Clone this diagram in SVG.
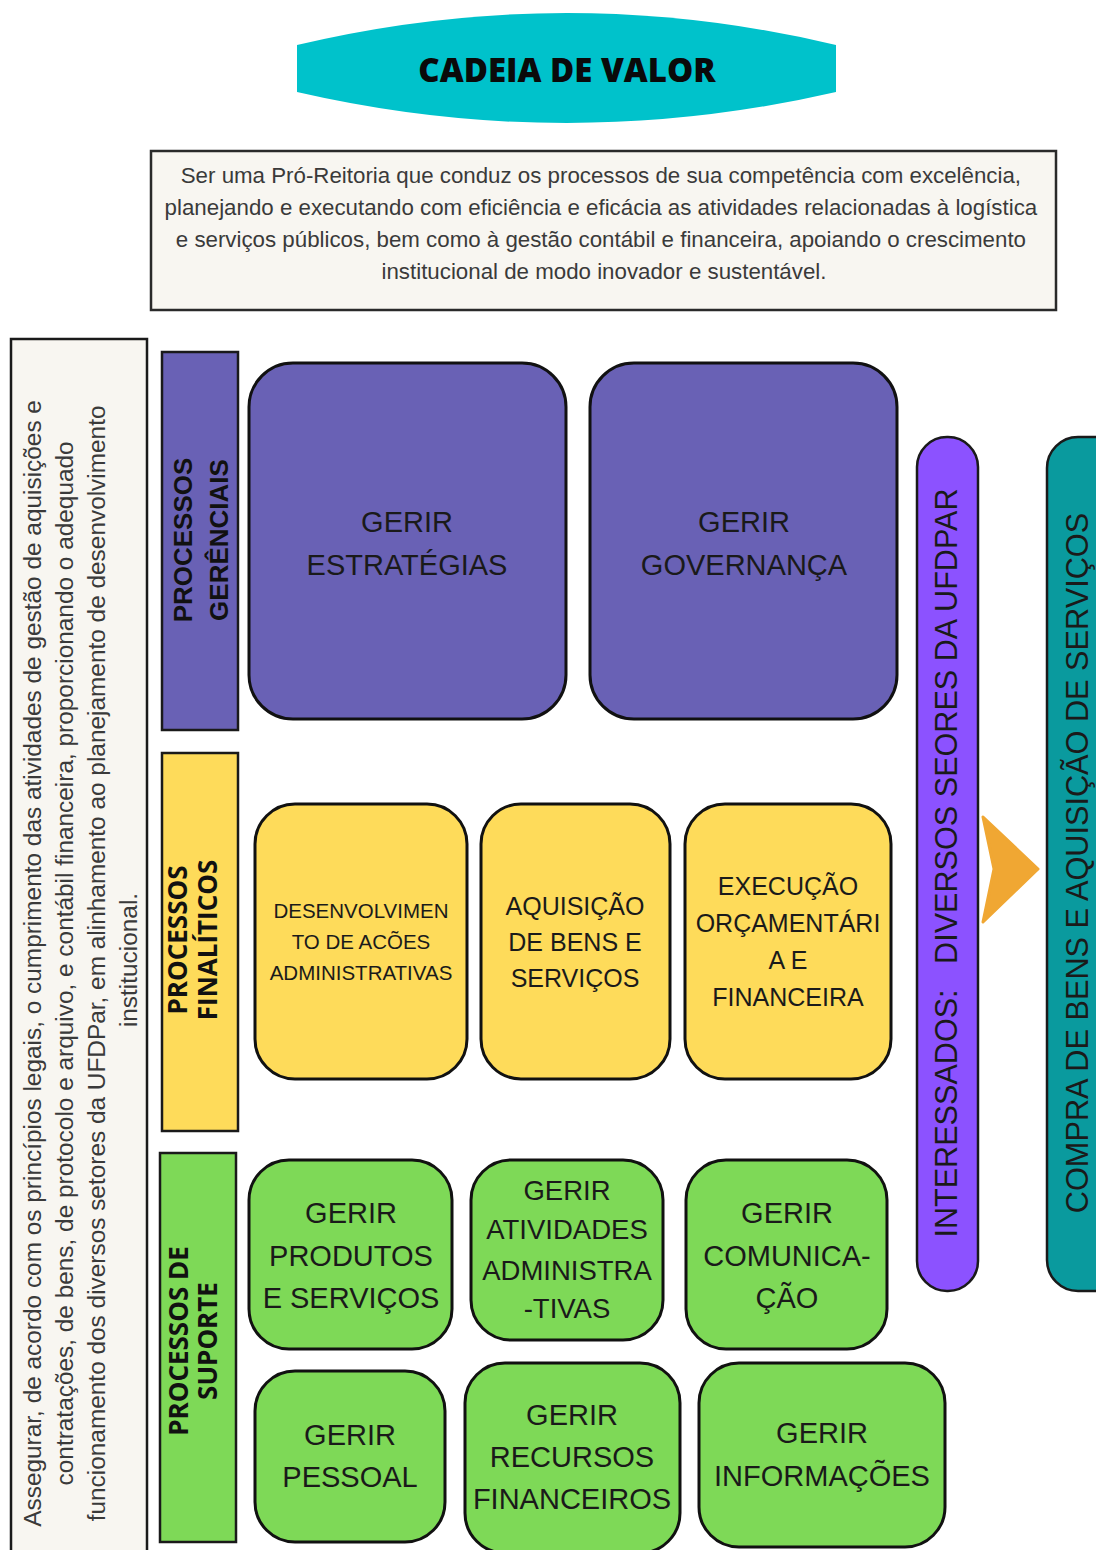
<svg xmlns="http://www.w3.org/2000/svg" width="1096" height="1550" viewBox="0 0 1096 1550">
<style>
.box{stroke:#111;stroke-width:3}
.pur{fill:#6961b5}
.yel{fill:#fedb5a}
.grn{fill:#7ed957}
.lbl{font-family:"Liberation Sans",Arial,sans-serif;fill:#1a1a1a;text-anchor:middle}
.bar{font-family:"Liberation Sans",Arial,sans-serif;font-weight:bold;fill:#111;text-anchor:middle;font-size:26px}
.bar2{font-family:"Open Sans","Liberation Sans",sans-serif;font-weight:bold;fill:#111;text-anchor:middle;font-size:26px}
.para{font-family:"Liberation Sans",Arial,sans-serif;fill:#3a3a3a;text-anchor:middle}
</style>
<rect width="1096" height="1550" fill="#ffffff"/>

<g id="title">
<path d="M297,45 Q567,-19 836,45 L836,92 Q567,154 297,92 Z" fill="#00c2cb"/>
<text x="567" y="82" font-family="'Open Sans','Liberation Sans',sans-serif" font-weight="800" font-size="33" fill="#0a0a0a" text-anchor="middle">CADEIA DE VALOR</text>
</g>

<g id="mission">
<rect x="151" y="151" width="905" height="159" fill="#f8f6f1" stroke="#2a2a2a" stroke-width="2.5"/>
<text class="para" font-size="22.3">
<tspan x="604" y="183">Ser uma Pró-Reitoria que conduz os processos de sua competência com excelência,</tspan>
<tspan x="604" y="215">planejando e executando com eficiência e eficácia as atividades relacionadas à logística</tspan>
<tspan x="604" y="247">e serviços públicos, bem como à gestão contábil e financeira, apoiando o crescimento</tspan>
<tspan x="604" y="279">institucional de modo inovador e sustentável.</tspan>
</text>
</g>

<g id="purpose">
<rect x="11" y="339" width="136" height="1230" fill="#f8f6f1" stroke="#1a1a1a" stroke-width="2.5"/>
<g transform="translate(0,960) rotate(-90)">
<text class="para" font-size="24.4">
<tspan x="0" y="41">Assegurar, de acordo com os princípios legais, o cumprimento das atividades de gestão de aquisições e</tspan>
<tspan x="0" y="73">contratações, de bens, de protocolo e arquivo, e contábil financeira, proporcionando o adequado</tspan>
<tspan x="0" y="105">funcionamento dos diversos setores da UFDPar, em alinhamento ao planejamento de desenvolvimento</tspan>
<tspan x="0" y="137">institucional.</tspan>
</text>
</g>
</g>

<g id="bar-gerenciais">
<rect x="162" y="352" width="76" height="378" class="pur" stroke="#1a1a1a" stroke-width="2.5"/>
<g transform="translate(0,540) rotate(-90)">
<text class="bar"><tspan x="0" y="192">PROCESSOS</tspan><tspan x="0" y="228">GERÊNCIAIS</tspan></text>
</g>
</g>

<g id="bar-finalisticos">
<rect x="162" y="753" width="76" height="378" class="yel" stroke="#1a1a1a" stroke-width="2.5"/>
<g transform="translate(0,940) rotate(-90)">
<text class="bar2"><tspan x="0" y="187">PROCESSOS</tspan><tspan x="0" y="217">FINALÍTICOS</tspan></text>
</g>
</g>

<g id="bar-suporte">
<rect x="160" y="1153" width="76" height="389" class="grn" stroke="#1a1a1a" stroke-width="2.5"/>
<g transform="translate(0,1341) rotate(-90)">
<text class="bar2"><tspan x="0" y="188">PROCESSOS DE</tspan><tspan x="0" y="217">SUPORTE</tspan></text>
</g>
</g>

<g id="gerir-estrategias">
<rect x="249" y="363" width="317" height="356" rx="44" class="box pur"/>
<text class="lbl" font-size="29"><tspan x="407" y="532">GERIR</tspan><tspan x="407" y="575">ESTRATÉGIAS</tspan></text>
</g>

<g id="gerir-governanca">
<rect x="590" y="363" width="307" height="356" rx="44" class="box pur"/>
<text class="lbl" font-size="29"><tspan x="744" y="532">GERIR</tspan><tspan x="744" y="575">GOVERNANÇA</tspan></text>
</g>

<g id="desenvolvimento">
<rect x="255" y="804" width="212" height="275" rx="40" class="box yel"/>
<text class="lbl" font-size="20.5"><tspan x="361" y="918">DESENVOLVIMEN</tspan><tspan x="361" y="949">TO DE ACÕES</tspan><tspan x="361" y="980">ADMINISTRATIVAS</tspan></text>
</g>

<g id="aquisicao">
<rect x="481" y="804" width="189" height="275" rx="40" class="box yel"/>
<text class="lbl" font-size="25"><tspan x="575" y="915">AQUISIÇÃO</tspan><tspan x="575" y="951">DE BENS E</tspan><tspan x="575" y="987">SERVIÇOS</tspan></text>
</g>

<g id="execucao">
<rect x="685" y="804" width="206" height="275" rx="40" class="box yel"/>
<text class="lbl" font-size="25"><tspan x="788" y="895">EXECUÇÃO</tspan><tspan x="788" y="932">ORÇAMENTÁRI</tspan><tspan x="788" y="969">A E</tspan><tspan x="788" y="1006">FINANCEIRA</tspan></text>
</g>

<g id="gerir-produtos">
<rect x="249" y="1160" width="203" height="189" rx="40" class="box grn"/>
<text class="lbl" font-size="29"><tspan x="351" y="1223">GERIR</tspan><tspan x="351" y="1266">PRODUTOS</tspan><tspan x="351" y="1308">E SERVIÇOS</tspan></text>
</g>

<g id="gerir-atividades">
<rect x="471" y="1160" width="192" height="180" rx="40" class="box grn"/>
<text class="lbl" font-size="27.5"><tspan x="567" y="1200">GERIR</tspan><tspan x="567" y="1239">ATIVIDADES</tspan><tspan x="567" y="1280">ADMINISTRA</tspan><tspan x="567" y="1318">-TIVAS</tspan></text>
</g>

<g id="gerir-comunicacao">
<rect x="686" y="1160" width="201" height="189" rx="40" class="box grn"/>
<text class="lbl" font-size="29"><tspan x="787" y="1223">GERIR</tspan><tspan x="787" y="1266">COMUNICA-</tspan><tspan x="787" y="1308">ÇÃO</tspan></text>
</g>

<g id="gerir-pessoal">
<rect x="255" y="1371" width="190" height="171" rx="40" class="box grn"/>
<text class="lbl" font-size="29"><tspan x="350" y="1445">GERIR</tspan><tspan x="350" y="1487">PESSOAL</tspan></text>
</g>

<g id="gerir-recursos">
<rect x="465" y="1363" width="215" height="190" rx="40" class="box grn"/>
<text class="lbl" font-size="29"><tspan x="572" y="1425">GERIR</tspan><tspan x="572" y="1467">RECURSOS</tspan><tspan x="572" y="1509">FINANCEIROS</tspan></text>
</g>

<g id="gerir-informacoes">
<rect x="699" y="1363" width="246" height="184" rx="40" class="box grn"/>
<text class="lbl" font-size="29"><tspan x="822" y="1443">GERIR</tspan><tspan x="822" y="1486">INFORMAÇÕES</tspan></text>
</g>

<g id="interessados">
<rect x="917" y="437" width="61" height="854" rx="30" fill="#8c52ff" stroke="#1a1a1a" stroke-width="2.5"/>
<g transform="translate(0,863) rotate(-90)">
<text class="lbl" font-size="30.6" xml:space="preserve" x="0" y="957">INTERESSADOS:   DIVERSOS SEORES DA UFDPAR</text>
</g>
</g>

<g id="connectors">
<path d="M983,817 L1038,869 L983,922 L994,869 Z" fill="#f0a733" stroke="#f0a733" stroke-width="3" stroke-linejoin="round"/>
</g>

<g id="compra">
<rect x="1047" y="437" width="80" height="854" rx="31" fill="#0a9a9e" stroke="#1a1a1a" stroke-width="2.5"/>
<g transform="translate(0,863) rotate(-90)">
<text class="lbl" font-size="30.7" x="0" y="1088">COMPRA DE BENS E AQUISIÇÃO DE SERVIÇOS</text>
</g>
</g>
</svg>
